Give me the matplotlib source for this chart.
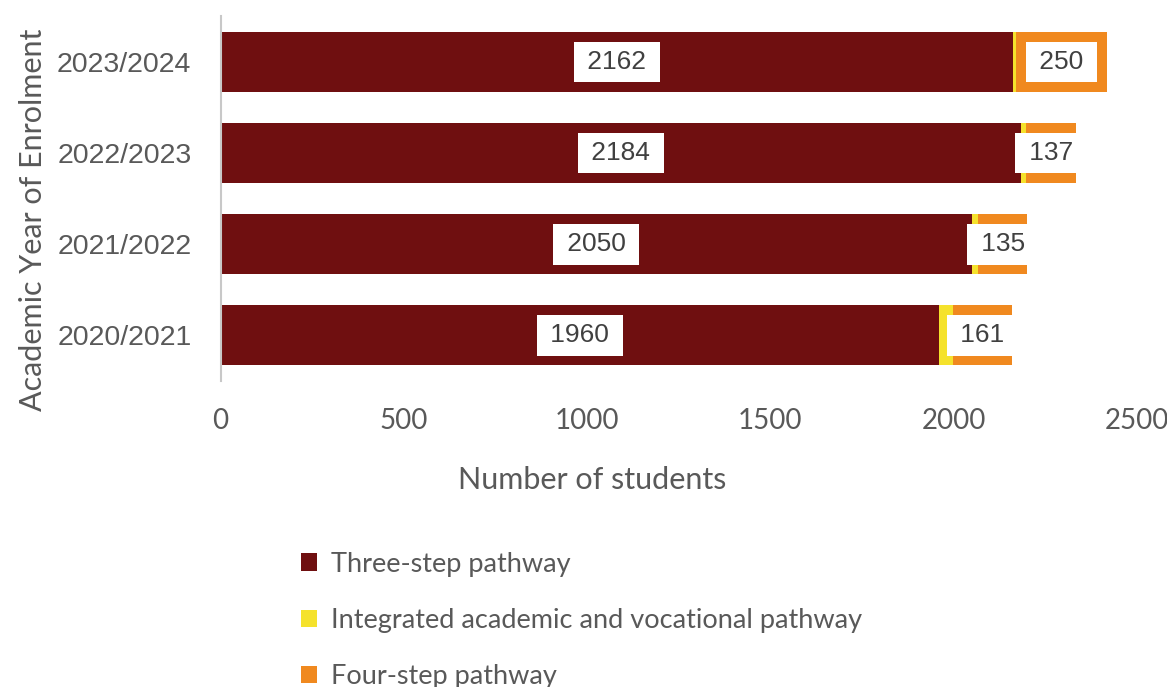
import numpy as np
import matplotlib.pyplot as plt

# Data
years = ["2020/2021", "2021/2022", "2022/2023", "2023/2024"]
three_step = [1960, 2050, 2184, 2162]
integrated = [38, 17, 14, 8]
four_step = [161, 135, 137, 250]

series_names = ["Three-step pathway",
                "Integrated academic and vocational pathway",
                "Four-step pathway"]
colors = ["#6f0f10", "#f5e22c", "#f0891f"]
text_grey = "#595959"

fig = plt.figure(figsize=(11.67, 6.87), dpi=100)
ax = fig.add_axes([0.189, 0.446, 0.785, 0.530])

y = np.arange(len(years))
h = 0.66
three = np.array(three_step)
integ = np.array(integrated)
four = np.array(four_step)

b1 = ax.barh(y, three, height=h, color=colors[0], label=series_names[0])
b2 = ax.barh(y, integ, left=three, height=h, color=colors[1], label=series_names[1])
b3 = ax.barh(y, four, left=three + integ, height=h, color=colors[2], label=series_names[2])

# value labels in white boxes
box = dict(boxstyle="square,pad=0.32", fc="white", ec="none")
for i in range(len(years)):
    ax.text(three[i] / 2, y[i], "\u2009%d\u2009" % three[i], ha="center", va="center",
            fontsize=19, family="Liberation Sans", color="#404040", bbox=box)
    ax.text(three[i] + integ[i] + four[i] / 2, y[i], "\u2009%d\u2009" % four[i],
            ha="center", va="center", fontsize=19, family="Liberation Sans",
            color="#404040", bbox=box)

ax.set_xlim(0, 2500)
ax.set_ylim(-0.5, 3.5)
ax.set_yticks(y)
ax.set_yticklabels(years, family="Liberation Sans", fontsize=20.5, color=text_grey)
ax.set_xticks([0, 500, 1000, 1500, 2000, 2500])
ax.set_xticklabels(["0", "500", "1000", "1500", "2000", "2500"],
                   family="Lato", fontsize=20, color=text_grey)
ax.tick_params(axis="both", length=0)
ax.tick_params(axis="y", pad=21)
ax.tick_params(axis="x", pad=20)

for s in ["top", "right", "bottom"]:
    ax.spines[s].set_visible(False)
ax.spines["left"].set_color("#c8c8c8")
ax.spines["left"].set_linewidth(1.5)

ax.set_xlabel("Number of students", family="Lato", fontsize=22, color=text_grey)
ax.xaxis.set_label_coords(0.406, -0.235)
ax.set_ylabel("Academic Year of Enrolment", family="Lato", fontsize=22, color=text_grey)
ax.yaxis.set_label_coords(-0.19, 0.441)

leg = fig.legend(handles=[b1, b2, b3], loc="upper left",
                 bbox_to_anchor=(0.2485, 0.213), frameon=False,
                 prop={"family": "Lato", "size": 19.5},
                 handlelength=0.6, handleheight=0.6, handletextpad=0.52,
                 labelspacing=1.15, borderaxespad=0)
for t in leg.get_texts():
    t.set_color(text_grey)

fig.savefig("out.png", dpi=100)
